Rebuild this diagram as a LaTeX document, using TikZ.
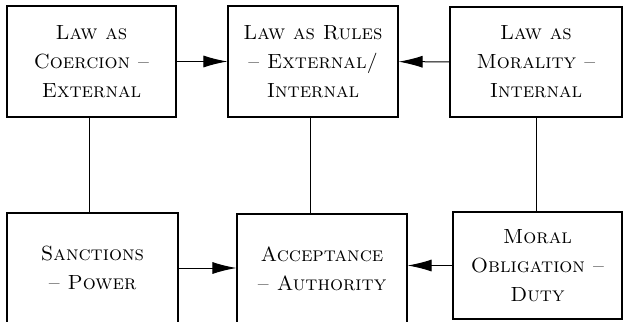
\documentclass[tikz,border=0pt]{standalone}
\usepackage{tikz}
\usetikzlibrary{arrows.meta}

\begin{document}
\begin{tikzpicture}[->,>={Latex[length=24pt,width=12pt]},x=1pt,y=-1pt,
  line width=1pt]
  \tikzstyle{box}=[draw,line width=1.2pt,inner sep=0pt,align=center,
    font=\fontsize{20.5}{29}\selectfont\scshape]

  \useasboundingbox (0,0) rectangle (623,321);

  \node[box,minimum width=169pt,minimum height=111pt] (coercion) at (91.5,61.5)
    {Law as\\Coercion --\\External};
  \node[box,minimum width=170pt,minimum height=111pt] (rules) at (313,61.5)
    {Law as Rules\\-- External/\\Internal};
  \node[box,minimum width=172pt,minimum height=110pt] (morality) at (536,62)
    {Law as\\Morality --\\Internal};
  \node[box,minimum width=171pt,minimum height=110pt] (sanctions) at (92.5,268)
    {Sanctions\\-- Power};
  \node[box,minimum width=170pt,minimum height=110pt] (acceptance) at (322,269)
    {Acceptance\\-- Authority};
  \node[box,minimum width=169pt,minimum height=107pt] (obligation) at (537.5,265.5)
    {Moral\\Obligation --\\Duty};

  \path
  (coercion) edge (rules)
  (morality) edge (rules)
  (sanctions.east) edge (acceptance.west |- sanctions.east)
  (obligation.west) edge (acceptance.east |- obligation.west)
  ;
  \path [-]
  ([xshift=-2pt]coercion.south) edge ([xshift=-2pt]coercion.south |- sanctions.north)
  ([xshift=-3pt]rules.south) edge ([xshift=-3pt]rules.south |- acceptance.north)
  (morality.south) edge (morality.south |- obligation.north)
  ;

\end{tikzpicture}
\end{document}
